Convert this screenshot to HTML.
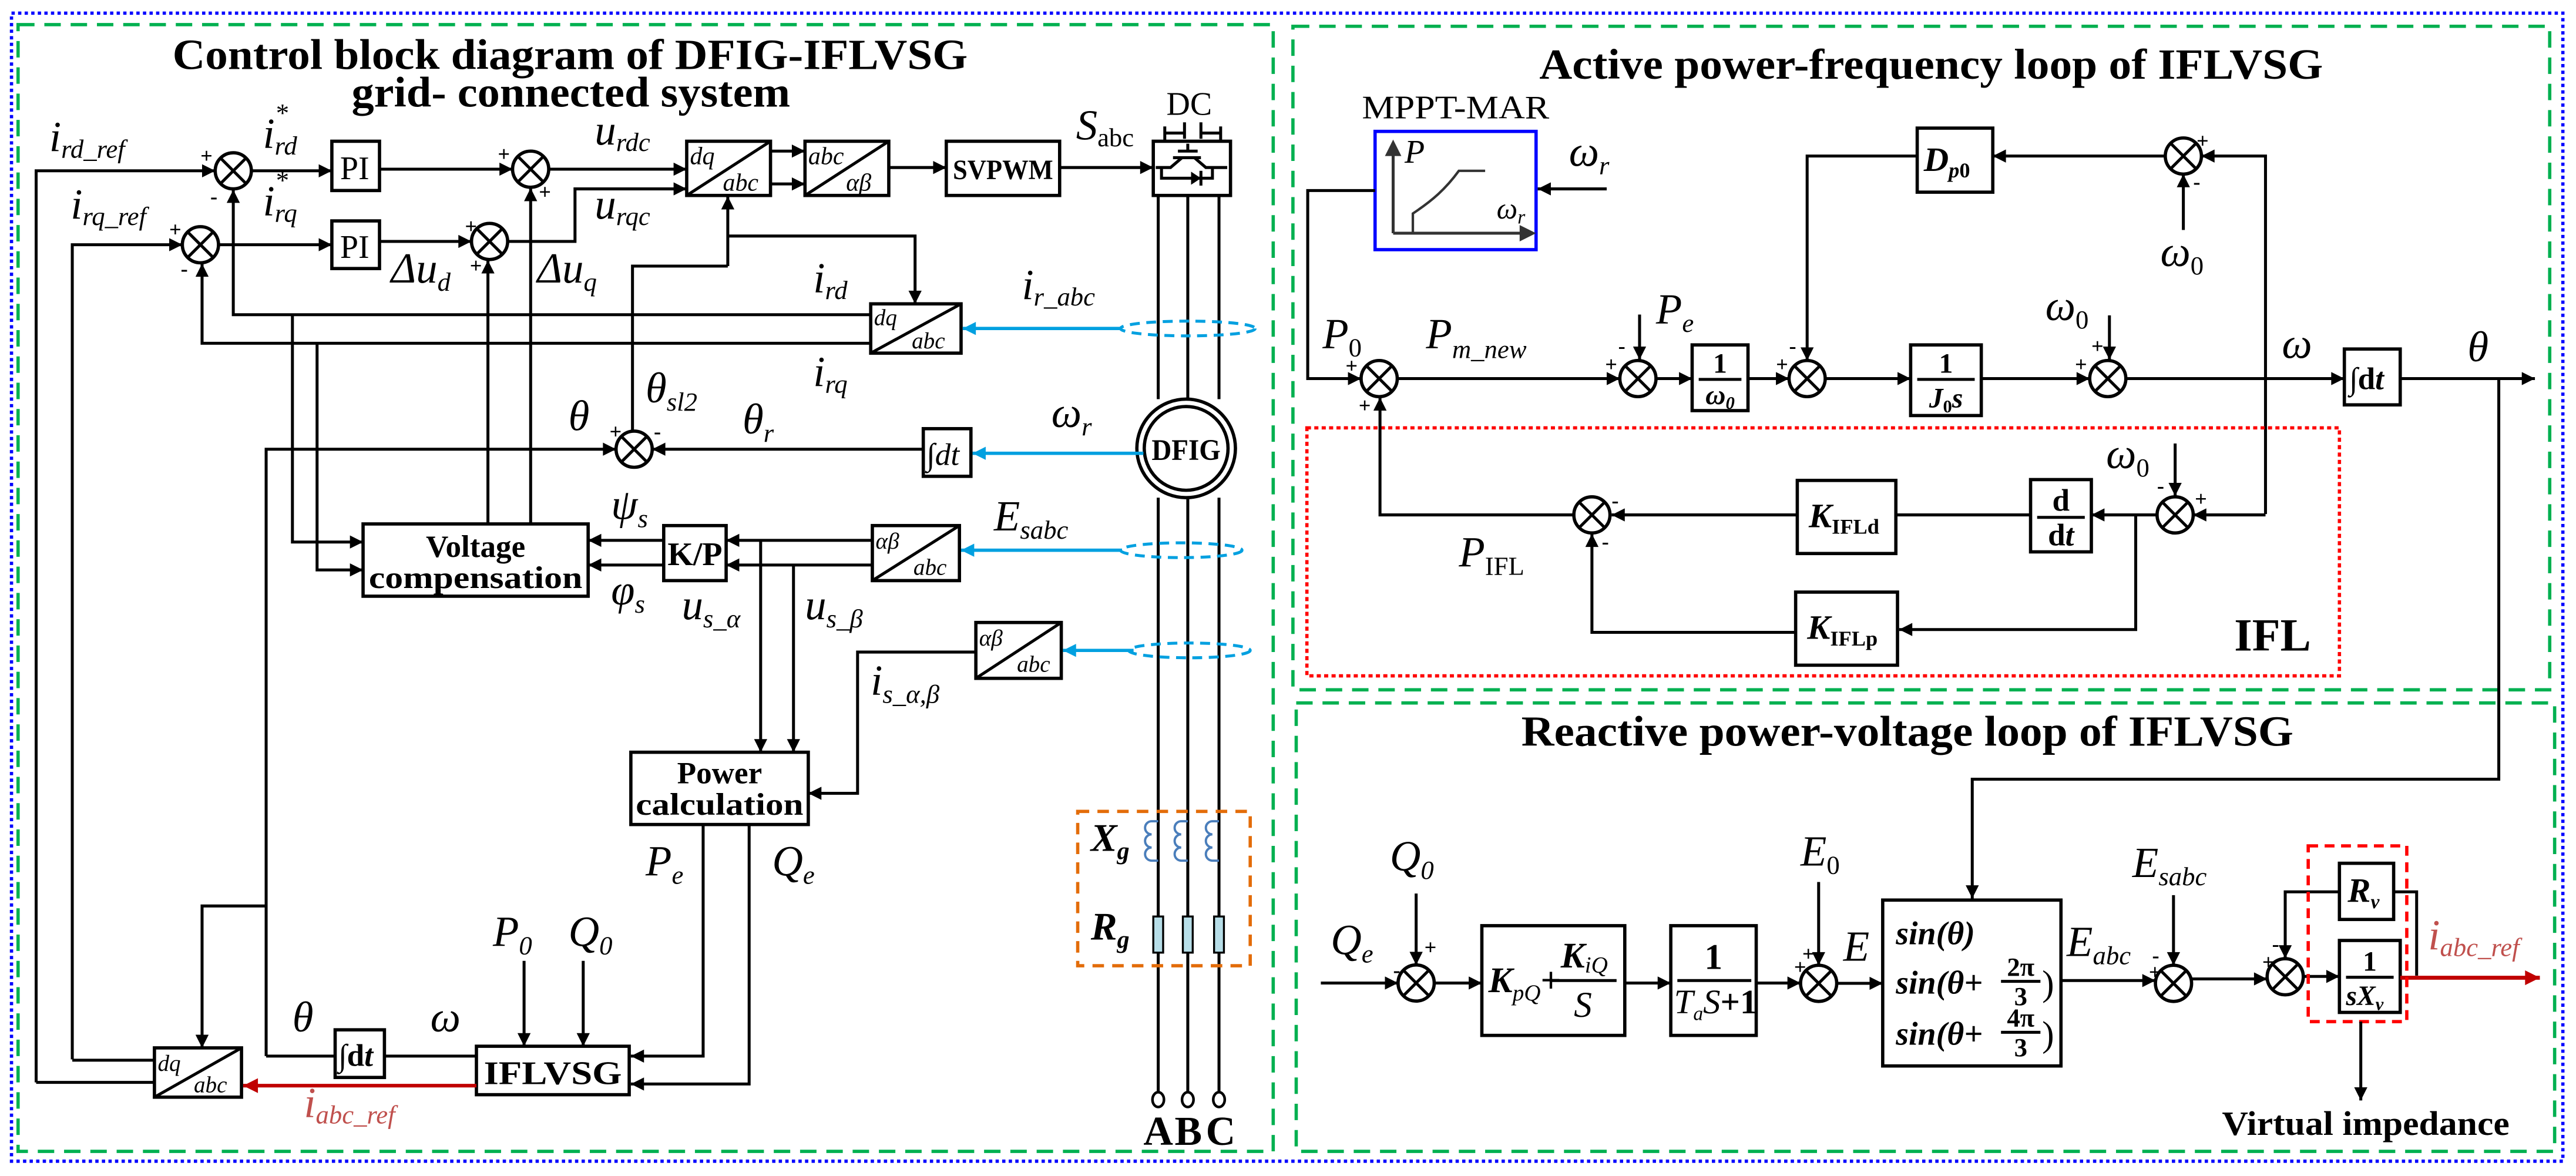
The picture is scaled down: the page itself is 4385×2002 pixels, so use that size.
<!DOCTYPE html>
<html><head><meta charset="utf-8"><style>
html,body{margin:0;padding:0;background:#fff}
svg{display:block}
text{font-family:"Liberation Serif",serif;fill:#000}
.l{font-style:italic;font-size:26px}
.s{font-size:16px}
.b{font-weight:bold}
.t{font-weight:bold;font-size:26px}
.pm{font-weight:bold;font-size:13px}
.ln{stroke:#000;stroke-width:1.8;fill:none}
.bx{stroke:#000;stroke-width:2;fill:#fff}
</style></head><body>
<svg width="4385" height="2002" viewBox="0 0 1568 716" preserveAspectRatio="none" xmlns="http://www.w3.org/2000/svg">
<defs>
<marker id="a" viewBox="0 0 10 10" refX="10" refY="5" markerWidth="10" markerHeight="8" markerUnits="userSpaceOnUse" orient="auto"><path d="M0,0L10,5L0,10z" fill="#000"/></marker>
<marker id="ab" viewBox="0 0 10 10" refX="10" refY="5" markerWidth="10" markerHeight="8" markerUnits="userSpaceOnUse" orient="auto"><path d="M0,0L10,5L0,10z" fill="#00a0e0"/></marker>
<marker id="ar" viewBox="0 0 10 10" refX="10" refY="5" markerWidth="11" markerHeight="9" markerUnits="userSpaceOnUse" orient="auto"><path d="M0,0L10,5L0,10z" fill="#c00000"/></marker>
<g id="sj"><circle r="11" fill="#fff" stroke="#000" stroke-width="2"/><path d="M-7.8,-7.8L7.8,7.8M7.8,-7.8L-7.8,7.8" stroke="#000" stroke-width="1.8"/></g>
</defs>

<!-- frames -->
<rect x="7" y="8" width="1553" height="699" fill="none" stroke="#0000ff" stroke-width="2" stroke-dasharray="2,2"/>
<rect x="11" y="15" width="764" height="686" fill="none" stroke="#00b050" stroke-width="2" stroke-dasharray="10,6"/>
<rect x="787" y="16" width="765" height="404" fill="none" stroke="#00b050" stroke-width="2" stroke-dasharray="10,6"/>
<rect x="789" y="428" width="766" height="273" fill="none" stroke="#00b050" stroke-width="2" stroke-dasharray="10,6"/>

<!-- ================= LEFT PANEL ================= -->
<text class="t" x="105" y="42" textLength="484" lengthAdjust="spacingAndGlyphs">Control block diagram of DFIG-IFLVSG</text>
<text class="t" x="214" y="65" textLength="267" lengthAdjust="spacingAndGlyphs">grid- connected system</text>

<!-- row 1 -->
<path class="ln" d="M22,659V104H131" marker-end="url(#a)"/>
<use href="#sj" x="142" y="104"/>
<path class="ln" d="M153,104H202" marker-end="url(#a)"/>
<rect class="bx" x="202" y="86" width="29" height="30"/><text x="207" y="109" font-size="20">PI</text>
<path class="ln" d="M231,103H312" marker-end="url(#a)"/>
<use href="#sj" x="323" y="103"/>
<path class="ln" d="M334,103H418" marker-end="url(#a)"/>
<path class="ln" d="M297,147H350V115H418" marker-end="url(#a)"/>
<rect class="bx" x="418" y="86" width="51" height="33"/><path class="ln" d="M418,119L469,86"/>
<text x="420" y="100" font-size="15" font-style="italic">dq</text><text x="440" y="116" font-size="15" font-style="italic">abc</text>
<path class="ln" d="M469,92H490" marker-end="url(#a)"/><path class="ln" d="M469,112H490" marker-end="url(#a)"/>
<rect class="bx" x="490" y="86" width="51" height="33"/><path class="ln" d="M490,119L541,86"/>
<text x="492" y="100" font-size="15" font-style="italic">abc</text><text x="515" y="116" font-size="15" font-style="italic">αβ</text>
<path class="ln" d="M541,102H576" marker-end="url(#a)"/>
<rect class="bx" x="576" y="86" width="69" height="33"/><text x="580" y="109" font-size="17" font-weight="bold" textLength="61" lengthAdjust="spacingAndGlyphs">SVPWM</text>
<path class="ln" d="M645,102H702" marker-end="url(#a)"/>
<rect class="bx" x="702" y="86" width="47" height="33"/>
<path class="ln" d="M723,87.5V92M717,92H729M714,96H731M719.5,96L712.5,102H703.5M727,96L734,102H747M707,102V108.5H738V102"/>
<path d="M725,104.5L731,108.5L725,112.5z" fill="#000"/><path class="ln" d="M731,104V113"/>
<path class="ln" d="M709,86V77M709,81H721M721,74.5V84.5M731,74.5V84.5M731,81H743M743,77V86"/>
<text x="710" y="70" font-size="20">DC</text>

<!-- grid lines -->
<path class="ln" d="M705,119V243M723,119V243M742,119V243M705,303V665M723,303V665M742,303V665"/>
<ellipse cx="705" cy="669.5" rx="3.5" ry="4.5" fill="#fff" stroke="#000" stroke-width="1.6"/>
<ellipse cx="723" cy="669.5" rx="3.5" ry="4.5" fill="#fff" stroke="#000" stroke-width="1.6"/>
<ellipse cx="742" cy="669.5" rx="3.5" ry="4.5" fill="#fff" stroke="#000" stroke-width="1.6"/>
<text x="696" y="697" font-size="25" font-weight="bold">A</text>
<text x="715" y="697" font-size="25" font-weight="bold">B</text>
<text x="734" y="697" font-size="25" font-weight="bold">C</text>
<circle cx="722" cy="273" r="30" fill="#fff" stroke="#000" stroke-width="2"/>
<circle cx="722" cy="273" r="25.5" fill="#fff" stroke="#000" stroke-width="2"/>
<text x="722" y="280" font-size="18" font-weight="bold" text-anchor="middle" textLength="42" lengthAdjust="spacingAndGlyphs">DFIG</text>

<ellipse cx="723" cy="200" rx="41" ry="4.5" fill="none" stroke="#00a0e0" stroke-width="1.8" stroke-dasharray="6,4"/>
<ellipse cx="719" cy="335" rx="37" ry="4.5" fill="none" stroke="#00a0e0" stroke-width="1.8" stroke-dasharray="6,4"/>
<ellipse cx="724" cy="396" rx="37" ry="4.5" fill="none" stroke="#00a0e0" stroke-width="1.8" stroke-dasharray="6,4"/>

<!-- row 2 -->
<path class="ln" d="M44,645V149H111" marker-end="url(#a)"/>
<use href="#sj" x="122" y="149"/>
<path class="ln" d="M133,149H202" marker-end="url(#a)"/>
<rect class="bx" x="202" y="134.5" width="29" height="29"/><text x="207" y="157" font-size="20">PI</text>
<path class="ln" d="M231,147H287" marker-end="url(#a)"/>
<use href="#sj" x="298" y="147"/>

<rect class="bx" x="530" y="185" width="55" height="30"/><path class="ln" d="M530,215L585,185"/>
<text x="532" y="198" font-size="14" font-style="italic">dq</text><text x="555" y="212" font-size="14" font-style="italic">abc</text>
<path class="ln" d="M530,191.6H142V115.5" marker-end="url(#a)"/>
<path class="ln" d="M530,209H123V160.5" marker-end="url(#a)"/>
<path d="M683,200H586" stroke="#00a0e0" stroke-width="2" marker-end="url(#ab)"/>
<path class="ln" d="M443,143.7H557V185" marker-end="url(#a)"/>
<path class="ln" d="M443,162V119.5" marker-end="url(#a)"/>
<path class="ln" d="M443,162H385V262"/>

<use href="#sj" x="386" y="273.5"/>
<path class="ln" d="M162,643V273.5H375" marker-end="url(#a)"/>
<rect class="bx" x="562" y="261" width="29" height="29"/><text x="564" y="283" font-size="19" font-style="italic">∫dt</text>
<path class="ln" d="M562,273.5H397" marker-end="url(#a)"/>
<path d="M696,276H592" stroke="#00a0e0" stroke-width="2" marker-end="url(#ab)"/>

<rect class="bx" x="221" y="319" width="137" height="44"/>
<text x="289.5" y="339" font-size="19" font-weight="bold" text-anchor="middle">Voltage</text>
<text x="289.5" y="358" font-size="19" font-weight="bold" text-anchor="middle" textLength="130" lengthAdjust="spacingAndGlyphs">compensation</text>
<path class="ln" d="M178,191.6V330H221" marker-end="url(#a)"/>
<path class="ln" d="M193,209V347H221" marker-end="url(#a)"/>
<path class="ln" d="M297,319V158.5" marker-end="url(#a)"/>
<path class="ln" d="M323,319V114.5" marker-end="url(#a)"/>
<rect class="bx" x="404" y="320" width="38" height="33.5"/><text x="423" y="344" font-size="20" font-weight="bold" text-anchor="middle">K/P</text>
<path class="ln" d="M404,329H358" marker-end="url(#a)"/><path class="ln" d="M404,344H358" marker-end="url(#a)"/>
<rect class="bx" x="531" y="320" width="53" height="33.5"/><path class="ln" d="M531,353.5L584,320"/>
<text x="533" y="334" font-size="14" font-style="italic">αβ</text><text x="556" y="350" font-size="14" font-style="italic">abc</text>
<path class="ln" d="M531,329H442" marker-end="url(#a)"/><path class="ln" d="M531,344H442" marker-end="url(#a)"/>
<path d="M683,335H585" stroke="#00a0e0" stroke-width="2" marker-end="url(#ab)"/>
<path class="ln" d="M463,329V458" marker-end="url(#a)"/>
<path class="ln" d="M483,344V458" marker-end="url(#a)"/>

<rect class="bx" x="594" y="379" width="52" height="34"/><path class="ln" d="M594,413L646,379"/>
<text x="596" y="393" font-size="14" font-style="italic">αβ</text><text x="619" y="409" font-size="14" font-style="italic">abc</text>
<path d="M690,396H647" stroke="#00a0e0" stroke-width="2" marker-end="url(#ab)"/>
<path class="ln" d="M594,397H522V483H492" marker-end="url(#a)"/>

<rect class="bx" x="384" y="458" width="108" height="44"/>
<text x="438" y="477" font-size="19" font-weight="bold" text-anchor="middle">Power</text>
<text x="438" y="496" font-size="19" font-weight="bold" text-anchor="middle" textLength="102" lengthAdjust="spacingAndGlyphs">calculation</text>
<path class="ln" d="M428,502V643H384" marker-end="url(#a)"/>
<path class="ln" d="M456,502V660H384" marker-end="url(#a)"/>

<rect class="bx" x="290" y="637" width="93" height="29.5"/><text x="336.5" y="660" font-size="20" font-weight="bold" text-anchor="middle" textLength="84" lengthAdjust="spacingAndGlyphs">IFLVSG</text>
<path class="ln" d="M319,585V637" marker-end="url(#a)"/>
<path class="ln" d="M355,585V637" marker-end="url(#a)"/>
<path class="ln" d="M290,643H234M204,643H162"/>
<rect class="bx" x="204" y="627" width="30" height="29"/><text x="206" y="649" font-size="19" font-weight="bold">∫d<tspan font-style="italic">t</tspan></text>
<path class="ln" d="M162,551.6H123V638" marker-end="url(#a)"/>
<rect class="bx" x="94" y="638" width="53" height="30"/><path class="ln" d="M94,668L147,638"/>
<text x="96" y="652" font-size="14" font-style="italic">dq</text><text x="118" y="665" font-size="14" font-style="italic">abc</text>
<path class="ln" d="M44,645.5H94M22,659H94"/>
<path d="M290,661H148" stroke="#c00000" stroke-width="2.2" marker-end="url(#ar)"/>

<rect x="656" y="494" width="105" height="94" fill="none" stroke="#e36c09" stroke-width="2" stroke-dasharray="7,5"/>
<g fill="none" stroke="#4a7ebb" stroke-width="1.4">
<path d="M705,500 h-4 a4,4 0 0 0 0,8 a4,4 0 0 0 0,8 a4,4 0 0 0 0,8 h4"/>
<path d="M723,500 h-4 a4,4 0 0 0 0,8 a4,4 0 0 0 0,8 a4,4 0 0 0 0,8 h4"/>
<path d="M742,500 h-4 a4,4 0 0 0 0,8 a4,4 0 0 0 0,8 a4,4 0 0 0 0,8 h4"/>
</g>
<rect x="702" y="558" width="6" height="22" fill="#b7dee8" stroke="#000" stroke-width="1.2"/>
<rect x="720" y="558" width="6" height="22" fill="#b7dee8" stroke="#000" stroke-width="1.2"/>
<rect x="739" y="558" width="6" height="22" fill="#b7dee8" stroke="#000" stroke-width="1.2"/>
<text x="664" y="518" font-size="24" font-weight="bold" font-style="italic">X<tspan font-size="15" dy="5">g</tspan></text>
<text x="664" y="572" font-size="24" font-weight="bold" font-style="italic">R<tspan font-size="15" dy="5">g</tspan></text>

<text class="l" x="30" y="92">i<tspan class="s" dy="4">rd_ref</tspan></text>
<text class="l" x="43" y="133">i<tspan class="s" dy="4">rq_ref</tspan></text>
<text class="l" x="160" y="90">i<tspan class="s" dy="-16">*</tspan><tspan class="s" dy="20" dx="-8">rd</tspan></text>
<text class="l" x="160" y="131">i<tspan class="s" dy="-16">*</tspan><tspan class="s" dy="20" dx="-8">rq</tspan></text>
<text class="l" x="362" y="88">u<tspan class="s" dy="4">rdc</tspan></text>
<text class="l" x="362" y="133">u<tspan class="s" dy="4">rqc</tspan></text>
<text class="l" x="238" y="172">Δu<tspan class="s" dy="5">d</tspan></text>
<text class="l" x="327" y="172">Δu<tspan class="s" dy="5">q</tspan></text>
<text class="l" x="495" y="178">i<tspan class="s" dy="4">rd</tspan></text>
<text class="l" x="495" y="235">i<tspan class="s" dy="4">rq</tspan></text>
<text class="l" x="622" y="182">i<tspan class="s" dy="4">r_abc</tspan></text>
<text class="l" x="393" y="245">θ<tspan class="s" dy="5">sl2</tspan></text>
<text class="l" x="346" y="262">θ</text>
<text class="l" x="452" y="264">θ<tspan class="s" dy="5">r</tspan></text>
<text class="l" x="640" y="260">ω<tspan class="s" dy="5">r</tspan></text>
<text class="l" x="655" y="85">S<tspan class="s" dy="4" font-style="normal">abc</tspan></text>
<text class="l" x="372" y="316">ψ<tspan class="s" dy="5">s</tspan></text>
<text class="l" x="372" y="368">φ<tspan class="s" dy="5">s</tspan></text>
<text class="l" x="605" y="323">E<tspan class="s" dy="5">sabc</tspan></text>
<text class="l" x="415" y="377">u<tspan class="s" dy="5">s_α</tspan></text>
<text class="l" x="490" y="377">u<tspan class="s" dy="5">s_β</tspan></text>
<text class="l" x="530" y="423">i<tspan class="s" dy="5">s_α,β</tspan></text>
<text class="l" x="393" y="533">P<tspan class="s" dy="5">e</tspan></text>
<text class="l" x="470" y="533">Q<tspan class="s" dy="5">e</tspan></text>
<text class="l" x="300" y="576">P<tspan class="s" dy="5">0</tspan></text>
<text class="l" x="346" y="576">Q<tspan class="s" dy="5">0</tspan></text>
<text class="l" x="178" y="628">θ</text>
<text class="l" x="262" y="628">ω</text>
<text class="l" x="185" y="680" style="fill:#c0504d">i<tspan class="s" dy="4">abc_ref</tspan></text>
<text class="pm" x="122" y="99">+</text><text class="pm" x="128" y="124">-</text>
<text class="pm" x="103" y="144">+</text><text class="pm" x="110" y="168">-</text>
<text class="pm" x="303" y="98">+</text><text class="pm" x="328" y="121">+</text>
<text class="pm" x="283" y="142">+</text><text class="pm" x="286" y="166">+</text>
<text class="pm" x="371" y="267">+</text><text class="pm" x="398" y="267">-</text>

<!-- ================= RIGHT TOP ================= -->
<text class="t" x="937" y="48" textLength="477" lengthAdjust="spacingAndGlyphs">Active power-frequency loop of IFLVSG</text>
<text x="829" y="72" font-size="20" textLength="114" lengthAdjust="spacingAndGlyphs">MPPT-MAR</text>
<rect x="837" y="80" width="98" height="72" fill="#fff" stroke="#0000ff" stroke-width="2"/>
<path d="M848,142V90M848,142H928" stroke="#333" stroke-width="1.8" fill="none"/>
<path d="M843,95L848,85L853,95z" fill="#333"/><path d="M925,137L935,142L925,147z" fill="#333"/>
<path d="M860,142V130C872,122 880,115 888,104H904" stroke="#333" stroke-width="1.5" fill="none"/>
<text x="855" y="99" font-size="20" font-style="italic">P</text>
<text x="911" y="133" font-size="18" font-style="italic">ω<tspan font-size="12" dy="3">r</tspan></text>
<text class="l" x="955" y="101">ω<tspan class="s" dy="5">r</tspan></text>
<path class="ln" d="M978,115H936" marker-end="url(#a)"/>
<path class="ln" d="M837,116H796V230.5H828.5" marker-end="url(#a)"/>
<use href="#sj" x="839.5" y="230.5"/>
<path class="ln" d="M850.5,230.5H986" marker-end="url(#a)"/>
<use href="#sj" x="997" y="230.5"/>
<path class="ln" d="M998,191.5V219" marker-end="url(#a)"/>
<path class="ln" d="M1008,230.5H1030" marker-end="url(#a)"/>
<rect class="bx" x="1030" y="210" width="34" height="40"/>
<text x="1047" y="227" font-size="17" font-weight="bold" text-anchor="middle">1</text><path class="ln" d="M1034,231H1060"/>
<text x="1047" y="246" font-size="17" font-weight="bold" font-style="italic" text-anchor="middle">ω<tspan font-size="11" dy="3">0</tspan></text>
<path class="ln" d="M1064,230.5H1089" marker-end="url(#a)"/>
<use href="#sj" x="1100" y="230.5"/>
<path class="ln" d="M1167,95H1100V219.5" marker-end="url(#a)"/>
<rect class="bx" x="1167" y="78" width="46" height="39"/>
<text x="1171" y="104" font-size="21" font-weight="bold" font-style="italic">D<tspan font-size="13" dy="4">p</tspan><tspan font-size="13" font-style="normal">0</tspan></text>
<path class="ln" d="M1318,95H1213" marker-end="url(#a)"/>
<use href="#sj" x="1329" y="95"/>
<path class="ln" d="M1379,313V95H1340" marker-end="url(#a)"/>
<path class="ln" d="M1329,140V106" marker-end="url(#a)"/>
<path class="ln" d="M1111,230.5H1163" marker-end="url(#a)"/>
<rect class="bx" x="1163" y="210" width="43" height="43"/>
<text x="1184.5" y="227" font-size="17" font-weight="bold" text-anchor="middle">1</text><path class="ln" d="M1167,231H1202"/>
<text x="1184.5" y="248" font-size="17" font-weight="bold" font-style="italic" text-anchor="middle">J<tspan font-size="11" dy="3" font-style="normal">0</tspan><tspan dy="-3">s</tspan></text>
<path class="ln" d="M1206,230.5H1272" marker-end="url(#a)"/>
<use href="#sj" x="1283" y="230.5"/>
<path class="ln" d="M1284,192V219" marker-end="url(#a)"/>
<path class="ln" d="M1294,230.5H1427" marker-end="url(#a)"/>
<rect class="bx" x="1427" y="212.5" width="34" height="34"/><text x="1430" y="237" font-size="19" font-weight="bold">∫d<tspan font-style="italic">t</tspan></text>
<path class="ln" d="M1461,230.5H1543" marker-end="url(#a)"/>

<rect x="795.5" y="260.5" width="628.5" height="151" fill="none" stroke="#ff0000" stroke-width="2" stroke-dasharray="2.5,2"/>
<text x="1360" y="396" font-size="28" font-weight="bold">IFL</text>
<use href="#sj" x="1324" y="313.5"/>
<path class="ln" d="M1324,270V302" marker-end="url(#a)"/>
<path class="ln" d="M1379,313.5H1335" marker-end="url(#a)"/>
<path class="ln" d="M1313,313.5H1273" marker-end="url(#a)"/>
<rect class="bx" x="1236" y="292" width="37" height="44"/>
<text x="1254.5" y="311" font-size="19" font-weight="bold" text-anchor="middle">d</text><path class="ln" d="M1240,315H1269"/>
<text x="1254.5" y="332" font-size="19" font-weight="bold" text-anchor="middle">d<tspan font-style="italic">t</tspan></text>
<path class="ln" d="M1300,313.5V383.3H1156" marker-end="url(#a)"/>
<path class="ln" d="M1236,313.5H1154"/>
<rect class="bx" x="1094" y="292.5" width="60" height="44.5"/>
<text x="1101" y="321" font-size="21" font-weight="bold" font-style="italic">K<tspan font-size="13" font-style="normal" dy="4">IFLd</tspan></text>
<rect class="bx" x="1093" y="360.5" width="62" height="44.5"/>
<text x="1100" y="389" font-size="21" font-weight="bold" font-style="italic">K<tspan font-size="13" font-style="normal" dy="4">IFLp</tspan></text>
<path class="ln" d="M1094,313.5H981" marker-end="url(#a)"/>
<use href="#sj" x="969" y="313.5"/>
<path class="ln" d="M1093,385H969V325" marker-end="url(#a)"/>
<path class="ln" d="M958,313.5H840V242" marker-end="url(#a)"/>
<text class="l" x="805" y="212">P<tspan class="s" dy="5" font-style="normal">0</tspan></text>
<text class="l" x="868" y="212">P<tspan class="s" dy="6">m_new</tspan></text>
<text class="l" x="1008" y="197">P<tspan class="s" dy="5">e</tspan></text>
<text class="l" x="1245" y="195">ω<tspan class="s" dy="5" font-style="normal">0</tspan></text>
<text class="l" x="1315" y="162">ω<tspan class="s" dy="5" font-style="normal">0</tspan></text>
<text class="l" x="1389" y="218">ω</text>
<text class="l" x="1502" y="220">θ</text>
<text class="l" x="1282" y="285">ω<tspan class="s" dy="5" font-style="normal">0</tspan></text>
<text class="l" x="888" y="345">P<tspan class="s" dy="5" font-style="normal">IFL</tspan></text>
<text class="pm" x="819" y="227">+</text><text class="pm" x="827" y="251">+</text>
<text class="pm" x="977" y="226">+</text><text class="pm" x="985" y="215">-</text>
<text class="pm" x="1081" y="226">+</text><text class="pm" x="1089" y="215">-</text>
<text class="pm" x="1263" y="226">+</text><text class="pm" x="1273" y="215">+</text>
<text class="pm" x="1337" y="90">+</text><text class="pm" x="1335" y="115">-</text>
<text class="pm" x="1313" y="300">-</text><text class="pm" x="1336" y="308">+</text>
<text class="pm" x="981" y="309">-</text><text class="pm" x="975" y="334">-</text>

<!-- ================= RIGHT BOTTOM ================= -->
<text class="t" x="926" y="454" textLength="470" lengthAdjust="spacingAndGlyphs">Reactive power-voltage loop of IFLVSG</text>
<path class="ln" d="M1521,230.5V474.4H1200.5V547" marker-end="url(#a)"/>
<path class="ln" d="M804,598.5H851" marker-end="url(#a)"/>
<use href="#sj" x="862" y="598.5"/>
<path class="ln" d="M862,544V587.5" marker-end="url(#a)"/>
<path class="ln" d="M873,598.5H902" marker-end="url(#a)"/>
<rect class="bx" x="902" y="563.6" width="87" height="66.8"/>
<text x="906" y="604" font-size="22" font-weight="bold" font-style="italic">K<tspan font-size="14" font-weight="normal" dy="5">pQ</tspan><tspan dy="-5" font-style="normal">+</tspan></text>
<path class="ln" d="M944,597H984"/>
<text x="950" y="589" font-size="22" font-weight="bold" font-style="italic">K<tspan font-size="14" font-weight="normal" dy="3">iQ</tspan></text>
<text x="958" y="619" font-size="22" font-style="italic">S</text>
<path class="ln" d="M989,598.5H1017" marker-end="url(#a)"/>
<rect class="bx" x="1017" y="563.6" width="52" height="66.8"/>
<text x="1043" y="590" font-size="22" font-weight="bold" text-anchor="middle">1</text>
<path class="ln" d="M1021,597H1066"/>
<text x="1019" y="617" font-size="21" font-style="italic">T<tspan font-size="12" dy="4">a</tspan><tspan dy="-4">S</tspan><tspan font-weight="bold" font-style="normal">+1</tspan></text>
<path class="ln" d="M1069,598.5H1096" marker-end="url(#a)"/>
<use href="#sj" x="1107" y="598.7"/>
<path class="ln" d="M1107,537V587.7" marker-end="url(#a)"/>
<path class="ln" d="M1118,598.7H1146" marker-end="url(#a)"/>
<rect class="bx" x="1146" y="548" width="108.5" height="101"/>
<g font-size="20" font-weight="bold" font-style="italic">
<text x="1154" y="575">sin(θ)</text>
<text x="1154" y="605">sin(θ+</text>
<text x="1154" y="636">sin(θ+</text>
</g>
<g font-size="16" font-weight="bold">
<text x="1230" y="594" text-anchor="middle">2π</text><path class="ln" d="M1218,597.5H1242"/><text x="1230" y="612" text-anchor="middle">3</text>
<text x="1230" y="625" text-anchor="middle">4π</text><path class="ln" d="M1218,628.5H1242"/><text x="1230" y="643" text-anchor="middle">3</text>
<text x="1243" y="606" font-size="22" font-weight="normal">)</text>
<text x="1243" y="637" font-size="22" font-weight="normal">)</text>
</g>
<path class="ln" d="M1254.5,597H1312" marker-end="url(#a)"/>
<use href="#sj" x="1323" y="598.7"/>
<path class="ln" d="M1323,545V587.7" marker-end="url(#a)"/>
<path class="ln" d="M1334,596H1380" marker-end="url(#a)"/>
<use href="#sj" x="1391" y="594.7"/>
<path class="ln" d="M1402,594.5H1424" marker-end="url(#a)"/>
<rect class="bx" x="1424" y="525.6" width="33" height="34.2"/>
<text x="1429" y="549" font-size="21" font-weight="bold" font-style="italic">R<tspan font-size="12" dy="4">v</tspan></text>
<rect class="bx" x="1424" y="572.6" width="37" height="43.8"/>
<text x="1442.5" y="591" font-size="17" font-weight="bold" text-anchor="middle">1</text><path class="ln" d="M1428,595H1457"/>
<text x="1428" y="612" font-size="17" font-weight="bold" font-style="italic">sX<tspan font-size="11" dy="3">v</tspan></text>
<path class="ln" d="M1424,543H1391V583.5" marker-end="url(#a)"/>
<path class="ln" d="M1457,543H1471V594"/>
<path d="M1461,595.3H1546" stroke="#c00000" stroke-width="2.4" marker-end="url(#ar)"/>
<rect x="1405" y="515" width="60" height="107" fill="none" stroke="#ff0000" stroke-width="2" stroke-dasharray="6,4"/>
<path class="ln" d="M1437,622V670" marker-end="url(#a)"/>
<text x="1440" y="691" font-size="21" font-weight="bold" text-anchor="middle" textLength="175" lengthAdjust="spacingAndGlyphs">Virtual impedance</text>
<text class="l" x="810" y="581">Q<tspan class="s" dy="5">e</tspan></text>
<text class="l" x="846" y="530">Q<tspan class="s" dy="5">0</tspan></text>
<text class="l" x="1096" y="527">E<tspan class="s" dy="5" font-style="normal">0</tspan></text>
<text class="l" x="1122" y="585">E</text>
<text class="l" x="1258" y="582">E<tspan class="s" dy="5">abc</tspan></text>
<text class="l" x="1298" y="534">E<tspan class="s" dy="5">sabc</tspan></text>
<text class="l" x="1478" y="578" style="fill:#c0504d">i<tspan class="s" dy="4">abc_ref</tspan></text>
<text class="pm" x="848" y="595">-</text><text class="pm" x="867" y="581">+</text>
<text class="pm" x="1092" y="593">+</text><text class="pm" x="1097" y="585">+</text>
<text class="pm" x="1310" y="586">-</text><text class="pm" x="1308" y="596">+</text>
<text class="pm" x="1377" y="590">+</text><text class="pm" x="1383" y="579">-</text>
</svg>
</body></html>
